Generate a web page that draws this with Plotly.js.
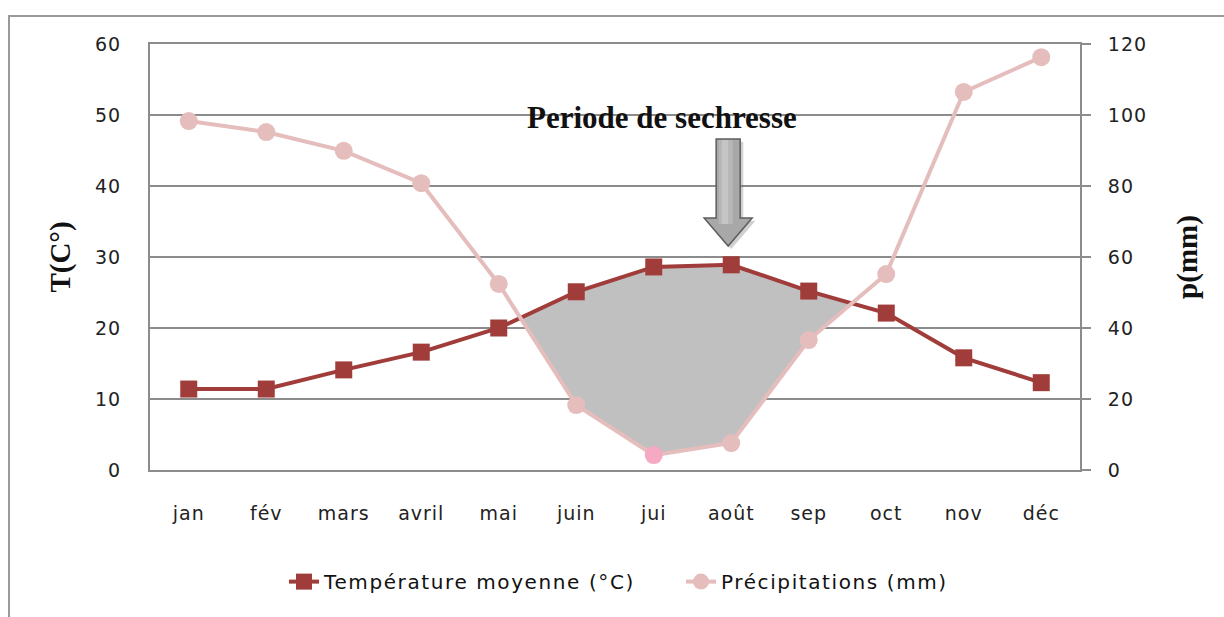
<!DOCTYPE html>
<html>
<head>
<meta charset="utf-8">
<script src="https://cdn.plot.ly/plotly-3.0.1.min.js"></script>
<style>
html,body{margin:0;padding:0;background:#fff;}
#chart{width:1224px;height:617px;}
#chart .legendtext{letter-spacing:1.6px;}
#chart .xtick text, #chart .ytick text, #chart .y2tick text{letter-spacing:1px;}
</style>
</head>
<body>
<div id="chart"></div>
<script>
// Data
const months = ["jan","fév","mars","avril","mai","juin","jui","août","sep","oct","nov","déc"];
const temperature = [11.4, 11.4, 14.1, 16.6, 20.0, 25.1, 28.6, 28.9, 25.2, 22.1, 15.8, 12.3];
const precipitation = [98.3, 95.2, 89.9, 80.8, 52.4, 18.3, 4.2, 7.6, 36.6, 55.2, 106.5, 116.3];
const tempTicks = [0, 10, 20, 30, 40, 50, 60];
const precTicks = [0, 20, 40, 60, 80, 100, 120];
const droughtLabel = "Periode de sechresse";

const xIdx = months.map((m, i) => i);

// Dry-period polygon (where P < 2T), computed from the data in temperature units
const pHalf = precipitation.map(p => p / 2);
const dDiff = temperature.map((t, i) => t - pHalf[i]);
const upperEdge = [], lowerEdge = [];
for (let i = 0; i < months.length; i++) {
  if (i > 0 && (dDiff[i - 1] > 0) !== (dDiff[i] > 0)) {
    const f = dDiff[i - 1] / (dDiff[i - 1] - dDiff[i]);
    const xc = i - 1 + f;
    const yc = temperature[i - 1] + f * (temperature[i] - temperature[i - 1]);
    upperEdge.push([xc, yc]); lowerEdge.push([xc, yc]);
  }
  if (dDiff[i] > 0) { upperEdge.push([i, temperature[i]]); lowerEdge.push([i, pHalf[i]]); }
}
const poly = upperEdge.concat(lowerEdge.slice().reverse());

const precColors = precipitation.map((p, i) => months[i] === "jui" ? "#f6a9c3" : "#e5bdbd");

const traces = [
  {
    x: poly.map(p => p[0]), y: poly.map(p => p[1]),
    type: "scatter", mode: "lines", fill: "toself",
    fillcolor: "#c0c0c0", line: {width: 0, color: "#c0c0c0"},
    showlegend: false, hoverinfo: "skip", xaxis: "x", yaxis: "y"
  },
  {
    x: xIdx, y: temperature, name: "Température moyenne (°C)",
    type: "scatter", mode: "lines+markers",
    line: {color: "#a03c3a", width: 4},
    marker: {symbol: "square", size: 17, color: "#a03c3a"},
    xaxis: "x", yaxis: "y"
  },
  {
    x: xIdx, y: precipitation, name: "Précipitations (mm)",
    type: "scatter", mode: "lines+markers",
    line: {color: "#e5bdbd", width: 4},
    marker: {symbol: "circle", size: 18, color: precColors},
    xaxis: "x", yaxis: "y2"
  }
];

// Block arrow pointing at août, in paper y
const ax = months.indexOf("août") - 0.04;
const yPx = v => (470 - v) / 426; // pixel row -> paper fraction helper
const arrowShape = (dx, dy) => {
  const pts = [
    [ax - 0.155 + dx, yPx(139 + dy)], [ax + 0.155 + dx, yPx(139 + dy)], [ax + 0.155 + dx, yPx(218 + dy)],
    [ax + 0.31 + dx, yPx(218 + dy)], [ax + dx, yPx(246 + dy)], [ax - 0.31 + dx, yPx(218 + dy)],
    [ax - 0.155 + dx, yPx(218 + dy)]
  ];
  return "M" + pts.map(p => p[0] + "," + p[1]).join(" L") + " Z";
};
const stripe = (x0, x1) => "M" + [[ax + x0, yPx(140)], [ax + x1, yPx(140)], [ax + x1, yPx(224)], [ax + x0, yPx(224)]].map(p => p[0] + "," + p[1]).join(" L") + " Z";

const tickFont = {family: "DejaVu Sans", size: 19, color: "#222"};
const titleFont = {family: "Liberation Serif", size: 29, color: "#111"};

const layout = {
  width: 1224, height: 617,
  margin: {l: 150, r: 144, t: 44, b: 147, pad: 0},
  paper_bgcolor: "#ffffff", plot_bgcolor: "#ffffff",
  showlegend: true,
  legend: {
    orientation: "h", x: (284 - 150) / 930, xanchor: "left", y: -0.262, yanchor: "middle",
    font: {family: "DejaVu Sans", size: 20, color: "#111"},
    itemwidth: 30, tracegroupgap: 0, entrywidth: 352, entrywidthmode: "pixels"
  },
  xaxis: {
    range: [-0.5, 11.5], tickmode: "array", tickvals: xIdx, ticktext: months,
    showgrid: false, zeroline: false, showline: true, mirror: true, linecolor: "#8c8c8c", linewidth: 2,
    ticks: "", tickfont: tickFont, ticklabelstandoff: 25, fixedrange: true
  },
  yaxis: {
    range: [0, 60], tickmode: "array", tickvals: tempTicks,
    showgrid: true, gridcolor: "#8c8c8c", gridwidth: 1.5,
    zeroline: false, showline: true, linecolor: "#8c8c8c", linewidth: 2,
    ticks: "", tickfont: tickFont, ticklabelstandoff: 23,
    title: {text: "<b>T(C°)</b>", font: titleFont, standoff: 18}
  },
  yaxis2: {
    range: [0, 120], tickmode: "array", tickvals: precTicks, overlaying: "y", side: "right",
    showgrid: false, zeroline: false, showline: true, linecolor: "#8c8c8c", linewidth: 2,
    ticks: "outside", ticklen: 9, tickwidth: 2, tickcolor: "#8c8c8c",
    tickfont: tickFont, ticklabelstandoff: 13,
    title: {text: "<b>p(mm)</b>", font: titleFont, standoff: 34}
  },
  shapes: [
    {type: "path", xref: "paper", yref: "paper", path: "M1.3,1.0657 L-0.1516,1.0657 L-0.1516,-0.5",
     line: {color: "#9a9a9a", width: 2}, layer: "below"},
    {type: "path", xref: "x", yref: "paper", path: arrowShape(0.04, 3),
     fillcolor: "rgba(120,120,120,0.35)", line: {width: 0}, layer: "above"},
    {type: "path", xref: "x", yref: "paper", path: arrowShape(0, 0),
     fillcolor: "#a8a8a8", line: {color: "#5e5e5e", width: 1.5}, layer: "above"},
    {type: "path", xref: "x", yref: "paper", path: stripe(-0.12, 0.06),
     fillcolor: "rgba(255,255,255,0.18)", line: {width: 0}, layer: "above"},
    {type: "path", xref: "x", yref: "paper", path: stripe(-0.08, 0.0),
     fillcolor: "rgba(255,255,255,0.2)", line: {width: 0}, layer: "above"}
  ],
  annotations: [
    {text: "<b>" + droughtLabel + "</b>", xref: "paper", yref: "paper",
     x: (662 - 150) / 930, y: yPx(117), xanchor: "center", yanchor: "middle",
     showarrow: false, font: {family: "Liberation Serif", size: 31, color: "#111"}}
  ]
};

Plotly.newPlot("chart", traces, layout, {displayModeBar: false, staticPlot: true});
</script>
</body>
</html>
